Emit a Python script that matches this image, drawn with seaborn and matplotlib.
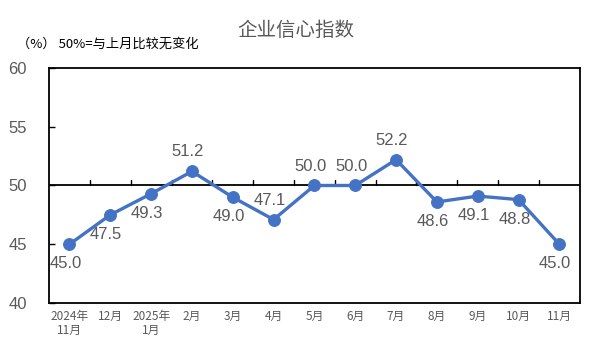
import pandas as pd
import matplotlib
matplotlib.use("Agg")
import matplotlib.pyplot as plt
import seaborn as sns

# chart data
months = ["2024年\n11月", "12月", "2025年\n1月", "2月", "3月", "4月", "5月",
          "6月", "7月", "8月", "9月", "10月", "11月"]
values = [45.0, 47.5, 49.3, 51.2, 49.0, 47.1, 50.0, 50.0, 52.2, 48.6, 49.1, 48.8, 45.0]
# label above (1) or below (-1) the point
label_side = [-1, -1, -1, 1, -1, 1, 1, 1, 1, -1, -1, -1, -1]
y_ticks = [40, 45, 50, 55, 60]

sns.set_theme(style="white")
plt.rcParams['font.family'] = ['Noto Sans CJK SC', 'DejaVu Sans']

df = pd.DataFrame({"month": months, "value": values, "pos": range(len(months))})

fig = plt.figure(figsize=(5.91, 3.54), dpi=100)
ax = fig.add_axes([0.083, 0.144, 0.898, 0.664])

sns.lineplot(data=df, x="pos", y="value", ax=ax, color="#4472C4", linewidth=2.4,
             marker="o", markersize=8.5, markeredgecolor="#4472C4", zorder=3)

# baseline at 50 with upward ticks at category boundaries
ax.axhline(50, color="black", linewidth=1.3, zorder=2)
for b in range(1, len(months)):
    ax.plot([b - 0.5, b - 0.5], [50, 50.5], color="black", linewidth=1, zorder=2)

for i, (v, s) in enumerate(zip(values, label_side)):
    ax.annotate(f"{v:.1f}", (i, v), xytext=(-3, 14 * s), textcoords="offset points",
                ha="center", va="center", fontsize=12, color="#595959",
                family=['Liberation Sans', 'DejaVu Sans'])

ax.set_xlim(-0.5, len(months) - 0.5)
ax.set_ylim(40, 60)
ax.set_yticks(y_ticks)
ax.set_yticklabels([str(t) for t in y_ticks], fontsize=12, color="#595959",
                   family=['Liberation Sans', 'DejaVu Sans'])
ax.set_xticks(df["pos"])
ax.set_xticklabels(months, fontsize=8.5, color="#595959", linespacing=1.1)
ax.tick_params(axis="x", length=0, pad=5)
ax.tick_params(axis="y", direction="in", length=4, width=1, color="black", left=True, pad=16)
ax.set_xlabel("")
ax.set_ylabel("")
for sp in ax.spines.values():
    sp.set_color("black")
    sp.set_linewidth(1.3)

fig.text(0.5, 0.913, "企业信心指数", ha="center", va="center", fontsize=14, color="#595959")
fig.text(0.028, 0.875, "（%） 50%=与上月比较无变化", ha="left", va="center", fontsize=9.5, color="black")

fig.savefig("out.png", dpi=100)
